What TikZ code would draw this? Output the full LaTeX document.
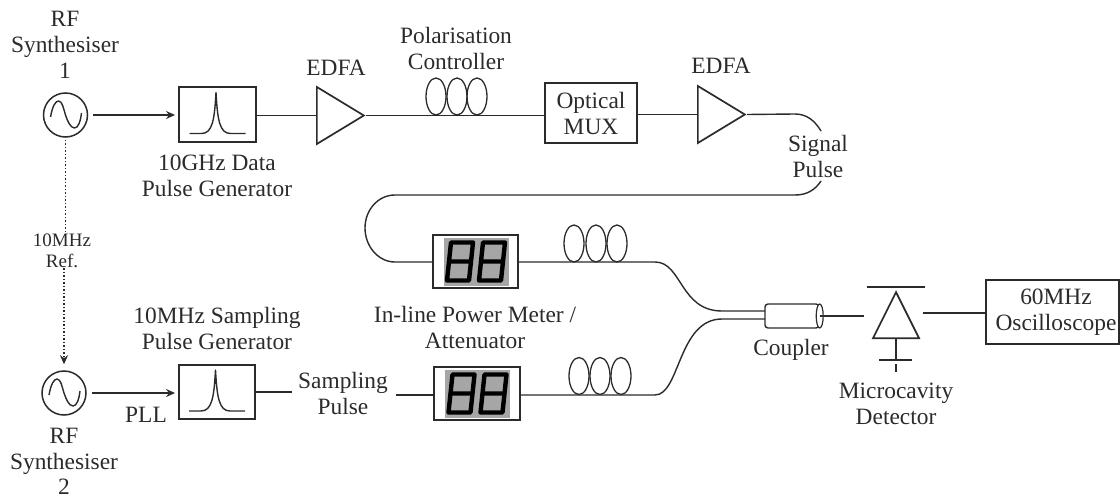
\documentclass[tikz,border=0pt]{standalone}
\usepackage{fontspec}
\setmainfont{Liberation Serif}
\usetikzlibrary{arrows.meta,shapes.geometric}
\definecolor{ink}{HTML}{2B2B2B}
\definecolor{lcd}{HTML}{A6A6A6}
\newcommand{\wave}[1]{\draw[thin line,shift={(#1)}] (-15,2) .. controls (-13,-9) and (-10,-14) .. (-7,-14) .. controls (-3,-14) and (-2,-6) .. (0,0) .. controls (2,6) and (5,13) .. (9,13) .. controls (13,13) and (15,6) .. (16,-2);}
\newcommand{\pulse}[1]{\draw[thin line,shift={(#1)}] (-28,19) -- (-16,19) .. controls (-5,19) and (-3,5) .. (-1.5,-22) .. controls (0,5) and (2,19) .. (13,19) -- (28,19);}
\newcommand{\digit}[1]{\draw[lcd line,shift={(#1)}] (-9,-19) -- (13,-19) -- (9,19) -- (-13,19) -- cycle (-11,0) -- (11,0);}
\newcommand{\meterface}[1]{%
  \fill[lcd,shift={(#1)}] (-32,-24) rectangle (33,24);
  \begin{scope}[shift={(#1)}]
    \digit{-15.5,0}
    \digit{16.5,0}
  \end{scope}}
\tikzset{
  thin line/.style ={ink,line width=1.4pt,line join=round},
  lcd line/.style  ={black,line width=4.4pt,line join=round},
  fibre/.style     ={ink,line width=1.4pt},
  feed/.style      ={fibre,-{Stealth[length=9pt,width=8pt]},shorten <=5pt,shorten >=3pt},
  refline/.style   ={ink,line width=1.5pt,dotted},
  unit/.style      ={draw=ink,line width=1.9pt,inner sep=0pt},
  source/.style    ={circle,draw=ink,line width=1.5pt,minimum size=44pt,inner sep=0pt},
  gain/.style      ={isosceles triangle,isosceles triangle stretches,draw=ink,line width=1.7pt,
                     minimum height=47pt,minimum width=57pt,inner sep=0pt,anchor=lower side},
  coil/.style      ={ellipse,draw=ink,line width=1.3pt,minimum width=20pt,minimum height=37pt,inner sep=0pt},
  label/.style     ={ink,align=center,inner sep=0pt,font=\fontsize{23.4}{26}\selectfont},
  small/.style     ={ink,align=center,inner sep=0pt,font=\fontsize{19}{21}\selectfont},
}
\begin{document}
\begin{tikzpicture}[x=1pt,y=-1pt]
  \useasboundingbox (0,0) rectangle (1120,495);
  % sources and pulse generators
  \node[source] (osc1) at (65.5,115) {};
  \node[source] (osc2) at (64,393) {};
  \node[unit,minimum width=77pt,minimum height=55pt] (gen1) at (217.5,114.5) {};
  \node[unit,minimum width=76pt,minimum height=54pt] (gen2) at (217,392) {};
  \wave{osc1}
  \wave{osc2}
  \pulse{gen1}
  \pulse{gen2}
  % upper arm
  \node[gain] (edfa1) at (316,115.5) {};
  \node[coil] (pc1) at (436,96.5) {};
  \node[coil] (pc2) at (457,96.5) {};
  \node[coil] (pc3) at (477,96.5) {};
  \node[unit,minimum width=92pt,minimum height=60pt,label] (mux) at (591,113) {Optical\\MUX};
  \node[gain] (edfa2) at (697,114.5) {};
  % power meters
  \node[unit,minimum width=85pt,minimum height=53pt] (meter1) at (475.5,261.5) {};
  \node[unit,minimum width=86pt,minimum height=53pt] (meter2) at (477,393.5) {};
  \meterface{meter1}
  \meterface{meter2}
  \node[coil] (pc4) at (574,243.5) {};
  \node[coil] (pc5) at (596,243.5) {};
  \node[coil] (pc6) at (617,243.5) {};
  \node[coil] (pc7) at (579,376) {};
  \node[coil] (pc8) at (600,376) {};
  \node[coil] (pc9) at (621,376) {};
  % coupler, detector, scope
  \node[draw=ink,line width=1.4pt,rounded corners=3pt,minimum width=54pt,minimum height=24pt,inner sep=0pt] (coupler) at (792,316) {};
  \node[ellipse,draw=ink,fill=white,line width=1.2pt,minimum width=7pt,minimum height=24pt,inner sep=0pt] (coupend) at (coupler.east) {};
  \node[gain,minimum height=46pt,minimum width=46pt,shape border rotate=90] (det) at (896,339) {};
  \node[unit,minimum width=133pt,minimum height=64pt] (scope) at (1052.5,312) {};
  % texts
  \node[label] (scopetxt) at (1056,312) {60MHz\\Oscilloscope};
  \node[label] (rf1) at (65,45) {RF\\Synthesiser\\1};
  \node[label] (rf2) at (64,461.5) {RF\\Synthesiser\\[-1.5pt]2};
  \node[small] (ref) at (62,251) {10MHz\\Ref.};
  \node[label] (edfatxt1) at (336,68) {EDFA};
  \node[label] (edfatxt2) at (721,66) {EDFA};
  \node[label] (pctxt) at (456,48) {Polarisation\\Controller};
  \node[label] (gentxt1) at (217,176) {10GHz Data\\Pulse Generator};
  \node[label] (gentxt2) at (217,328) {10MHz Sampling\\Pulse Generator};
  \node[label] (sigtxt) at (818,156) {Signal\\Pulse};
  \node[label] (samtxt) at (343,393) {Sampling\\Pulse};
  \node[label] (pll) at (146,415) {PLL};
  \node[label] (metertxt) at (475,327) {In-line Power Meter /\\Attenuator};
  \node[label] (couptxt) at (791,350) {Coupler};
  \node[label] (dettxt) at (896,404) {Microcavity\\Detector};
  % bend points
  \coordinate (siga) at (795,114);
  \coordinate (sigb) at (821,131);
  \coordinate (sigc) at (821,181);
  \coordinate (sigd) at (795,195);
  \coordinate (loopa) at (395,195);
  \coordinate (loopb) at (365,228);
  \coordinate (loopc) at (395,262);
  \coordinate (bota) at (396,395);
  \coordinate (mixa) at (655,262);
  \coordinate (mixb) at (722,311);
  \coordinate (mixc) at (655,395);
  \coordinate (mixd) at (722,319);
  \coordinate (cpa) at (765,311);
  \coordinate (cpb) at (765,319);
  \coordinate (detin) at (864,316);
  \coordinate (detout) at (923,313);
  \coordinate (cata) at (867,287);
  \coordinate (catb) at (925,287);
  \coordinate (gnd) at (896,360);
  \coordinate (gnda) at (879,360);
  \coordinate (gndb) at (912,360);
  \coordinate (gndc) at (896,364);
  \coordinate (gndd) at (896,372);
  % connectors
  \draw[feed] (osc1.east) -- (gen1.west |- osc1.east);
  \draw[feed] (osc2.east) -- (gen2.west |- osc2.east);
  \draw[fibre] (gen1.east |- edfa1.lower side) -- (edfa1.lower side);
  \draw[fibre] (edfa1.apex) -- (mux.west |- edfa1.apex);
  \draw[fibre] (mux.east |- edfa2.lower side) -- (edfa2.lower side);
  \draw[fibre] (edfa2.apex) -- (siga) .. controls (807,114) and (815,121) .. (sigb);
  \draw[fibre] (sigc) .. controls (815,190) and (807,195) .. (sigd) -- (loopa)
    .. controls (378,195) and (365,210) .. (loopb)
    .. controls (365,246) and (378,262) .. (loopc) -- (meter1.west |- loopc);
  \draw[fibre] (meter1.east |- mixa) -- (mixa) .. controls (682,262) and (680,311) .. (mixb) -- (cpa);
  \draw[fibre,shorten >=6pt] (gen2.east) -- (samtxt.west |- gen2.east);
  \draw[fibre] (bota) -- (meter2.west |- bota);
  \draw[fibre] (meter2.east |- mixc) -- (mixc) .. controls (680,395) and (678,319) .. (mixd) -- (cpb);
  \draw[fibre] (coupend.center) -- (detin);
  \draw[fibre] (detout) -- (scope.west |- detout);
  \draw[fibre,line width=1.7pt] (cata) -- (catb);
  \draw[fibre,line width=1.7pt] (det.lower side) -- (gnd);
  \draw[fibre,line width=1.7pt] (gnda) -- (gndb);
  \draw[fibre,line width=1.7pt] (gndc) -- (gndd);
  \draw[refline,shorten <=2pt] (osc1.south) -- (osc1.south |- ref.north);
  \draw[refline,-{Stealth[length=9pt,width=8pt]},shorten >=6pt] (osc2.north |- ref.south) -- (osc2.north);
\end{tikzpicture}
\end{document}
